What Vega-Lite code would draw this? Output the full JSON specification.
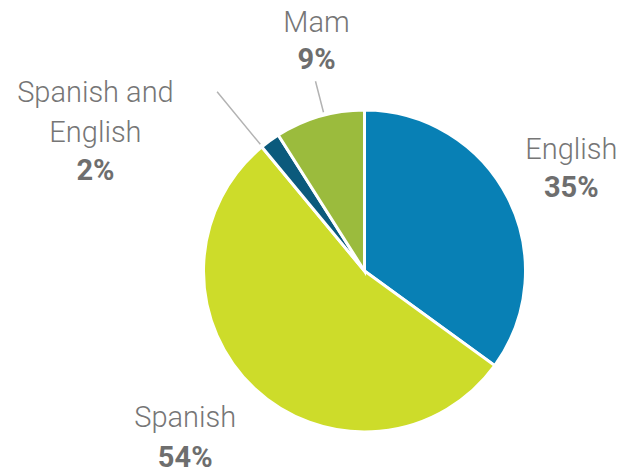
{
  "$schema": "https://vega.github.io/schema/vega-lite/v6.json",
  "width": 519,
  "height": 410,
  "padding": {"left": 105, "top": 66, "right": 0, "bottom": 0},
  "autosize": {"type": "none"},
  "background": "white",
  "config": {"view": {"stroke": null}, "text": {"font": "Roboto"}},
  "data": {
    "values": [
      {"lang": "English", "label": "English", "share": 0.35, "idx": 1},
      {"lang": "Spanish", "label": "Spanish", "share": 0.54, "idx": 2},
      {"lang": "Spanish and English", "label": "Spanish and\nEnglish", "share": 0.02, "idx": 3},
      {"lang": "Mam", "label": "Mam", "share": 0.09, "idx": 4}
    ]
  },
  "encoding": {
    "theta": {"field": "share", "type": "quantitative", "stack": true},
    "order": {"field": "idx", "type": "quantitative"}
  },
  "layer": [
    {
      "mark": {"type": "arc", "radius": 161, "stroke": "white", "strokeWidth": 3},
      "encoding": {
        "color": {
          "field": "lang",
          "type": "nominal",
          "scale": {
            "domain": ["English", "Spanish", "Spanish and English", "Mam"],
            "range": ["#0880b5", "#cddc2a", "#0b5a7c", "#9bbb3d"]
          },
          "legend": null
        }
      }
    },
    {
      "mark": {"type": "arc", "radius": 196, "radius2": 164, "padAngle": 3.1416, "filled": false, "stroke": "#b3b3b3", "strokeWidth": 1.5, "thetaOffset": 0.03, "theta2Offset": 0.03},
      "encoding": {"strokeOpacity": {"condition": {"test": "datum.lang === 'Mam'", "value": 1}, "value": 0}}
    },
    {
      "mark": {"type": "arc", "radius": 232, "radius2": 164, "padAngle": 3.1416, "filled": false, "stroke": "#b3b3b3", "strokeWidth": 1.5, "thetaOffset": -0.06, "theta2Offset": -0.06},
      "encoding": {"strokeOpacity": {"condition": {"test": "datum.lang === 'Spanish and English'", "value": 1}, "value": 0}}
    },
    {
      "mark": {"type": "text", "radius": 240, "dx": -7, "dy": -3, "fontSize": 29, "fontWeight": 300, "color": "#767676", "align": "center", "baseline": "alphabetic"},
      "encoding": {"text": {"condition": {"test": "datum.lang === 'English'", "field": "label", "type": "nominal"}, "value": ""}}
    },
    {
      "mark": {"type": "text", "radius": 240, "dx": -7, "dy": 35, "fontSize": 29, "fontWeight": "bold", "color": "#6e6e6e", "align": "center", "baseline": "alphabetic"},
      "encoding": {"text": {"condition": {"test": "datum.lang === 'English'", "field": "share", "type": "quantitative", "format": ".0%"}, "value": ""}}
    },
    {
      "mark": {"type": "text", "radius": 240, "dx": -15, "dy": -19, "fontSize": 29, "fontWeight": 300, "color": "#767676", "align": "center", "baseline": "alphabetic"},
      "encoding": {"text": {"condition": {"test": "datum.lang === 'Spanish'", "field": "label", "type": "nominal"}, "value": ""}}
    },
    {
      "mark": {"type": "text", "radius": 240, "dx": -15, "dy": 21, "fontSize": 29, "fontWeight": "bold", "color": "#6e6e6e", "align": "center", "baseline": "alphabetic"},
      "encoding": {"text": {"condition": {"test": "datum.lang === 'Spanish'", "field": "share", "type": "quantitative", "format": ".0%"}, "value": ""}}
    },
    {
      "mark": {"type": "text", "radius": 240, "dx": 19, "dy": -9, "fontSize": 29, "fontWeight": 300, "color": "#767676", "align": "center", "baseline": "alphabetic"},
      "encoding": {"text": {"condition": {"test": "datum.lang === 'Mam'", "field": "label", "type": "nominal"}, "value": ""}}
    },
    {
      "mark": {"type": "text", "radius": 240, "dx": 19, "dy": 28, "fontSize": 29, "fontWeight": "bold", "color": "#6e6e6e", "align": "center", "baseline": "alphabetic"},
      "encoding": {"text": {"condition": {"test": "datum.lang === 'Mam'", "field": "share", "type": "quantitative", "format": ".0%"}, "value": ""}}
    },
    {
      "mark": {"type": "text", "radius": 240, "dx": -128, "dy": 25, "fontSize": 29, "fontWeight": 300, "color": "#767676", "align": "center", "baseline": "alphabetic", "lineBreak": "\n", "lineHeight": 40},
      "encoding": {"text": {"condition": {"test": "datum.lang === 'Spanish and English'", "field": "label", "type": "nominal"}, "value": ""}}
    },
    {
      "mark": {"type": "text", "radius": 240, "dx": -128, "dy": 103, "fontSize": 29, "fontWeight": "bold", "color": "#6e6e6e", "align": "center", "baseline": "alphabetic"},
      "encoding": {"text": {"condition": {"test": "datum.lang === 'Spanish and English'", "field": "share", "type": "quantitative", "format": ".0%"}, "value": ""}}
    }
  ]
}
